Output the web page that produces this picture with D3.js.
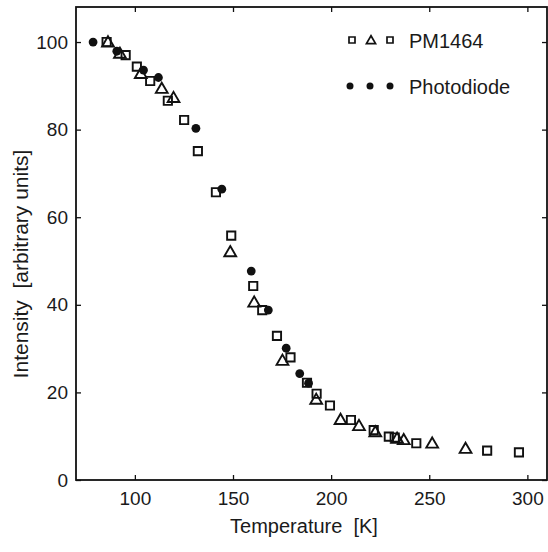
<!DOCTYPE html>
<html><head><meta charset="utf-8">
<script src="https://cdn.jsdelivr.net/npm/d3@7"></script>
<style>body{margin:0;background:#fff}svg{display:block}text{font-family:"Liberation Sans",Arial,Helvetica,sans-serif;fill:#1a1a1a;white-space:pre}</style>
</head><body><svg id="c" width="548" height="552"></svg>
<script>
// PM1464 squares
const sqT = [85.6, 95.3, 101, 107.8, 116.8, 125.1, 132.1, 141.3, 149.1, 160.3, 164.9, 172.4, 179.3, 187.7, 192.6, 199.4, 210.1, 221.7, 229.4, 232.4, 243.4, 279.5, 295.7];
const sqV = [100, 97, 94.4, 91.1, 86.6, 82.2, 75.1, 65.7, 55.8, 44.3, 38.8, 32.9, 28.0, 22.2, 19.7, 17.0, 13.7, 11.4, 9.9, 9.7, 8.4, 6.7, 6.3];
// PM1464 triangles
const trT = [86.3, 92.4, 103, 113.7, 119.7, 148.6, 160.8, 175.2, 192.4, 204.8, 214.2, 222.5, 233.6, 237, 251.5, 268.5];
const trV = [100, 97.4, 92.8, 89.4, 87.3, 52.1, 40.6, 27.3, 18.4, 13.8, 12.4, 11.0, 9.5, 9.2, 8.4, 7.2];
// Photodiode circles
const pdT = [78.7, 90.8, 104.4, 112, 131.1, 144.3, 159.3, 168, 177.1, 184, 188.5];
const pdV = [100, 97.9, 93.6, 91.9, 80.3, 66.4, 47.7, 38.8, 30.1, 24.3, 22.1];
const xTicks = [100, 150, 200, 250, 300];
const yTicks = [0, 20, 40, 60, 80, 100];
const legendLabels = ["PM1464", "Photodiode"];
const xLabel = "Temperature  [K]";
const yLabel = "Intensity  [arbitrary units]";

const svg = d3.select("#c");
const L = 76, R = 547, T = 7, B = 480;
const x = d3.scaleLinear().domain([70, 310]).range([L, R]);
const y = d3.scaleLinear().domain([0, 108]).range([B, T]);
const fs = 19, tl = 5;

const g = svg.append("g");
g.append("g").attr("transform", `translate(0,${B})`)
  .call(d3.axisBottom(x).tickValues(xTicks).tickSizeInner(-tl).tickSizeOuter(0).tickPadding(12))
  .call(a => { a.select(".domain").remove(); a.selectAll("text").style("font-size", fs + "px"); });
g.append("g").attr("transform", `translate(${L},0)`)
  .call(d3.axisLeft(y).tickValues(yTicks).tickSizeInner(-tl).tickSizeOuter(0).tickPadding(8))
  .call(a => { a.select(".domain").remove(); a.selectAll("text").style("font-size", fs + "px"); });
g.append("g").attr("transform", `translate(0,${T})`)
  .call(d3.axisTop(x).tickValues(xTicks).tickSizeInner(-tl).tickSizeOuter(0).tickFormat(""))
  .call(a => a.select(".domain").remove());
g.append("g").attr("transform", `translate(${R},0)`)
  .call(d3.axisRight(y).tickValues(yTicks).tickSizeInner(-tl).tickSizeOuter(0).tickFormat(""))
  .call(a => a.select(".domain").remove());
g.selectAll(".tick line").attr("stroke", "#111").attr("stroke-width", 1.3);
g.append("rect").attr("x", L).attr("y", T).attr("width", R - L).attr("height", B - T)
  .attr("fill", "none").attr("stroke", "#111").attr("stroke-width", 1.8);

svg.append("text").attr("x", 304).attr("y", 533).attr("text-anchor", "middle")
  .style("font-size", "20px").text(xLabel);
svg.append("text").attr("transform", "translate(28,264) rotate(-90)").attr("text-anchor", "middle")
  .style("font-size", "21px").text(yLabel);

const sqSym = d3.symbol().type(d3.symbolSquare);
const trSym = d3.symbol().type(d3.symbolTriangle);
const data = (ts, vs) => ts.map((t, i) => ({ t, v: vs[i] }));

svg.append("g").selectAll("path").data(data(sqT, sqV)).join("path")
  .attr("d", sqSym.size(68)())
  .attr("transform", d => `translate(${x(d.t)},${y(d.v)})`)
  .attr("fill", "none").attr("stroke", "#111").attr("stroke-width", 1.9);
svg.append("g").selectAll("path").data(data(trT, trV)).join("path")
  .attr("d", trSym.size(60)())
  .attr("transform", d => `translate(${x(d.t)},${y(d.v) + 1})`)
  .attr("fill", "none").attr("stroke", "#111").attr("stroke-width", 1.9);
svg.append("g").selectAll("circle").data(data(pdT, pdV)).join("circle")
  .attr("cx", d => x(d.t)).attr("cy", d => y(d.v)).attr("r", 4.4)
  .attr("fill", "#111");

const lg = svg.append("g");
const ly1 = 40, ly2 = 86;
[352, 390].forEach(px => lg.append("path").attr("d", sqSym.size(36)())
  .attr("transform", `translate(${px},${ly1})`).attr("fill", "none").attr("stroke", "#111").attr("stroke-width", 1.7));
lg.append("path").attr("d", trSym.size(36)()).attr("transform", `translate(371,${ly1 + 1})`)
  .attr("fill", "none").attr("stroke", "#111").attr("stroke-width", 1.7);
[350, 370, 390].forEach(px => lg.append("circle").attr("cx", px).attr("cy", ly2).attr("r", 3.5).attr("fill", "#111"));
lg.append("text").attr("x", 409).attr("y", ly1 + 8).style("font-size", "20px").text(legendLabels[0]);
lg.append("text").attr("x", 409).attr("y", ly2 + 8).style("font-size", "20px").text(legendLabels[1]);
</script></body></html>
